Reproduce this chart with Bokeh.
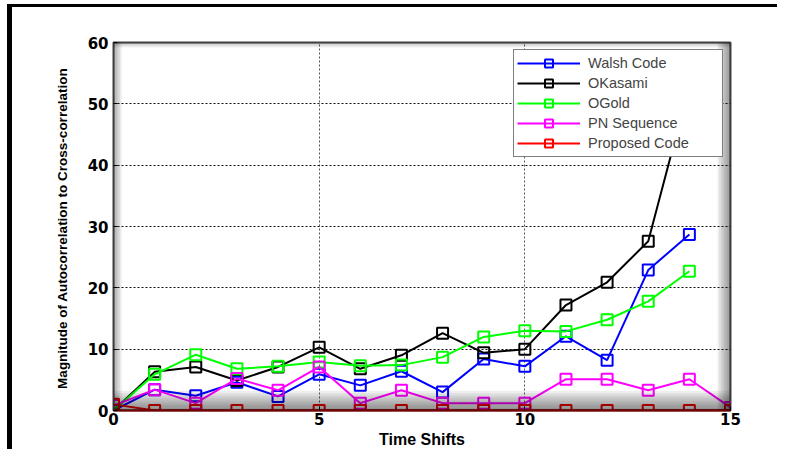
from bokeh.plotting import figure
from bokeh.models import BoxAnnotation, Range1d, FixedTicker
from bokeh.embed import file_html
from bokeh.resources import INLINE

# ---- data ----
shifts = list(range(15))
shifts_full = list(range(16))
walsh = [0, 3.4, 2.4, 4.6, 2.3, 5.9, 4.1, 6.4, 3.0, 8.4, 7.2, 12.1, 8.2, 22.9, 28.7]
okasami = [0, 6.3, 7.1, 4.9, 7.1, 10.3, 6.8, 9.0, 12.6, 9.4, 10.0, 17.2, 20.9, 27.6, 53.0]
ogold = [0, 5.9, 9.1, 6.8, 7.2, 7.9, 7.3, 7.4, 8.7, 12.0, 13.0, 12.9, 14.8, 17.8, 22.7]
pn_seq = [0.8, 3.4, 1.2, 5.2, 3.3, 7.1, 1.2, 3.3, 1.2, 1.2, 1.2, 5.1, 5.1, 3.3, 5.1, 0.5]
proposed = [1.0, 0, 0, 0, 0, 0, 0, 0, 0, 0, 0, 0, 0, 0, 0, 0]

x_ticks = [0, 5, 10, 15]
y_ticks = [0, 10, 20, 30, 40, 50, 60]

series = [
    ("Walsh Code", shifts, walsh, "#0000ff"),
    ("OKasami", shifts, okasami, "#000000"),
    ("OGold", shifts, ogold, "#00ff00"),
    ("PN Sequence", shifts_full, pn_seq, "#ff00ff"),
    ("Proposed Code", shifts_full, proposed, "#ff0000"),
]

p = figure(width=770, height=445, output_backend="svg", toolbar_location=None,
           x_range=Range1d(0, 15), y_range=Range1d(0, 60),
           min_border_left=101, min_border_top=35, min_border_right=52, min_border_bottom=42)
p.styles = {"border-left": "5px solid black", "border-top": "3px solid black",
            "margin-left": "7px", "margin-top": "4px"}

p.background_fill_color = "white"
p.border_fill_color = "white"
p.outline_line_color = "#444444"
p.outline_line_width = 2

# grid
p.xgrid.ticker = FixedTicker(ticks=x_ticks)
p.ygrid.ticker = FixedTicker(ticks=y_ticks)
p.xgrid.grid_line_color = "#555555"
p.ygrid.grid_line_color = "#111111"
p.xgrid.grid_line_dash = "2 2"
p.ygrid.grid_line_dash = "2 2"

# axes
for ax in (p.xaxis[0], p.yaxis[0]):
    ax.major_tick_in = 4
    ax.major_tick_out = 0
    ax.minor_tick_line_color = None
    ax.major_label_text_font = "DejaVu Sans"
    ax.major_label_text_font_style = "bold"
    ax.major_label_text_font_size = "15px"
    ax.major_label_text_color = "black"
    ax.axis_line_color = "#444444"
    ax.axis_label_text_font = "Liberation Sans"
    ax.axis_label_text_font_style = "bold"
    ax.axis_label_text_color = "black"
p.xaxis.axis_line_color = "#8b0000"
p.xaxis.axis_line_width = 2
p.xaxis.ticker = FixedTicker(ticks=x_ticks)
p.yaxis.ticker = FixedTicker(ticks=y_ticks)
p.xaxis.major_label_standoff = 2
p.yaxis.major_label_standoff = 5
p.xaxis.axis_label = "Time Shifts"
p.xaxis.axis_label_text_font_size = "16px"
p.xaxis.axis_label_standoff = 3
p.yaxis.axis_label = "Magnitude of  Autocorrelation to Cross-correlation"
p.yaxis.axis_label_text_font_size = "13.5px"
p.yaxis.axis_label_standoff = 15

# 3D-like shading along the frame edges (decoration)
for i in range(1, 9):
    p.add_layout(BoxAnnotation(left=0, right=15, bottom=0, top=3.2 * i / 8,
                               fill_color="black", fill_alpha=0.065, line_color=None))
    p.add_layout(BoxAnnotation(left=15 - 0.32 * i / 8, right=15, bottom=0, top=60,
                               fill_color="black", fill_alpha=0.06, line_color=None))
for i in range(1, 6):
    p.add_layout(BoxAnnotation(left=0, right=0.2 * i / 5, bottom=0, top=60,
                               fill_color="black", fill_alpha=0.07, line_color=None))
    p.add_layout(BoxAnnotation(left=0, right=15, bottom=60 - 0.8 * i / 5, top=60,
                               fill_color="black", fill_alpha=0.05, line_color=None))

# series
for name, xs, ys, col in series:
    p.line(xs, ys, line_color=col, line_width=2, legend_label=name)
    p.scatter(xs, ys, marker="square", size=11, line_color=col, line_width=2,
              fill_color=None, legend_label=name)

leg = p.legend[0]
leg.location = "top_right"
leg.margin = 7
leg.padding = 3
leg.spacing = 0
leg.label_height = 20
leg.glyph_height = 20
leg.glyph_width = 63
leg.label_standoff = 8
leg.label_width = 131
leg.label_text_font = "Liberation Sans"
leg.label_text_font_size = "14.5px"
leg.border_line_color = "black"
leg.border_line_width = 1
leg.background_fill_color = "white"
leg.background_fill_alpha = 1.0

open("out.html", "w").write(file_html(p, INLINE))
